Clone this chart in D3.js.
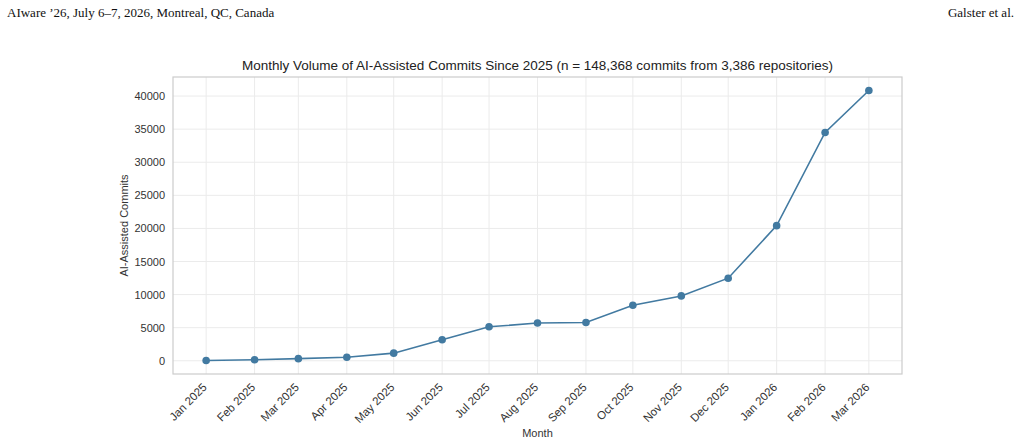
<!DOCTYPE html>
<html>
<head>
<meta charset="utf-8">
<script src="https://cdn.jsdelivr.net/npm/d3@7"></script>
<style>
  body { margin: 0; background: #fff; }
  .hdr { font-family: "Liberation Serif", "DejaVu Serif", serif; font-size: 13px; fill: #111; }
  .axis text { font-family: "Liberation Sans", Arial, sans-serif; font-size: 11px; fill: #333; }
  .axis path, .axis line { display: none; }
  .lbl { font-family: "Liberation Sans", Arial, sans-serif; font-size: 11px; fill: #333; }
  .title { font-family: "Liberation Sans", Arial, sans-serif; font-size: 13.5px; fill: #222; }
</style>
</head>
<body>
<div id="chart"></div>
<script>
// months and monthly counts
const months = ["2025-01", "2025-02", "2025-03", "2025-04", "2025-05", "2025-06", "2025-07",
  "2025-08", "2025-09", "2025-10", "2025-11", "2025-12", "2026-01", "2026-02", "2026-03"];
const commits = [40, 150, 320, 520, 1150, 3170, 5130, 5700, 5790, 8400, 9800, 12480, 20420, 34500, 40840];
const yTicks = [0, 5000, 10000, 15000, 20000, 25000, 30000, 35000, 40000];

const W = 1021, H = 444;
const margin = { top: 77, right: 119, bottom: 70, left: 173 };
const width = W - margin.left - margin.right;
const height = H - margin.top - margin.bottom;

const parse = d3.timeParse("%Y-%m");
const data = months.map((m, i) => ({ date: parse(m), value: commits[i] }));

const svg = d3.select("#chart").append("svg")
    .attr("width", W)
    .attr("height", H);

// page header
svg.append("text").attr("class", "hdr").attr("x", 7).attr("y", 17)
    .text("AIware \u201926, July 6\u20137, 2026, Montreal, QC, Canada");
svg.append("text").attr("class", "hdr").attr("x", 1014).attr("y", 17)
    .style("text-anchor", "end").text("Galster et al.");

const g = svg.append("g")
    .attr("transform", `translate(${margin.left},${margin.top})`);

// matplotlib-style 5% padding
const xExt = d3.extent(data, d => d.date);
const span = xExt[1] - xExt[0];
const x = d3.scaleTime()
    .domain([new Date(+xExt[0] - span * 0.05), new Date(+xExt[1] + span * 0.05)])
    .range([0, width]);

const yMax = d3.max(commits), yMin = d3.min(commits);
const ySpan = yMax - yMin;
const y = d3.scaleLinear()
    .domain([yMin - ySpan * 0.05, yMax + ySpan * 0.05])
    .range([height, 0]);

// grid
g.append("g").selectAll("line")
    .data(yTicks).enter().append("line")
    .attr("x1", 0).attr("x2", width)
    .attr("y1", d => y(d)).attr("y2", d => y(d))
    .style("stroke", "#ebebeb").style("stroke-width", 1);

g.append("g").selectAll("line")
    .data(data).enter().append("line")
    .attr("x1", d => x(d.date)).attr("x2", d => x(d.date))
    .attr("y1", 0).attr("y2", height)
    .style("stroke", "#ebebeb").style("stroke-width", 1);

// frame
g.append("rect")
    .attr("width", width).attr("height", height)
    .style("fill", "none").style("stroke", "#cccccc").style("stroke-width", 1.2);

// axes
g.append("g")
    .attr("class", "axis")
    .call(d3.axisLeft(y).tickValues(yTicks).tickSize(0).tickPadding(8).tickFormat(d3.format("d")));

const xAxis = g.append("g")
    .attr("class", "axis")
    .attr("transform", `translate(0,${height})`)
    .call(d3.axisBottom(x).tickValues(data.map(d => d.date)).tickSize(0).tickFormat(d3.timeFormat("%b %Y")));

xAxis.selectAll("text")
    .attr("y", 0).attr("dy", "0")
    .attr("transform", "translate(1,14) rotate(-45)")
    .style("font-size", "11.5px")
    .style("text-anchor", "end");

// axis titles
g.append("text")
    .attr("class", "lbl")
    .attr("transform", `translate(${-45},${height / 2}) rotate(-90)`)
    .style("text-anchor", "middle")
    .text("AI-Assisted Commits");

g.append("text")
    .attr("class", "lbl")
    .attr("x", width / 2).attr("y", height + 63)
    .style("text-anchor", "middle")
    .text("Month");

g.append("text")
    .attr("class", "title")
    .attr("x", width / 2).attr("y", -7)
    .style("text-anchor", "middle")
    .text("Monthly Volume of AI-Assisted Commits Since 2025 (n = 148,368 commits from 3,386 repositories)");

// line and markers
const line = d3.line()
    .x(d => x(d.date))
    .y(d => y(d.value));

g.append("path")
    .datum(data)
    .attr("d", line)
    .style("fill", "none")
    .style("stroke", "#427aa1")
    .style("stroke-width", 1.6);

g.selectAll(".dot")
    .data(data)
    .enter().append("circle")
    .attr("class", "dot")
    .attr("cx", d => x(d.date))
    .attr("cy", d => y(d.value))
    .attr("r", 3.8)
    .style("fill", "#427aa1");
</script>
</body>
</html>
